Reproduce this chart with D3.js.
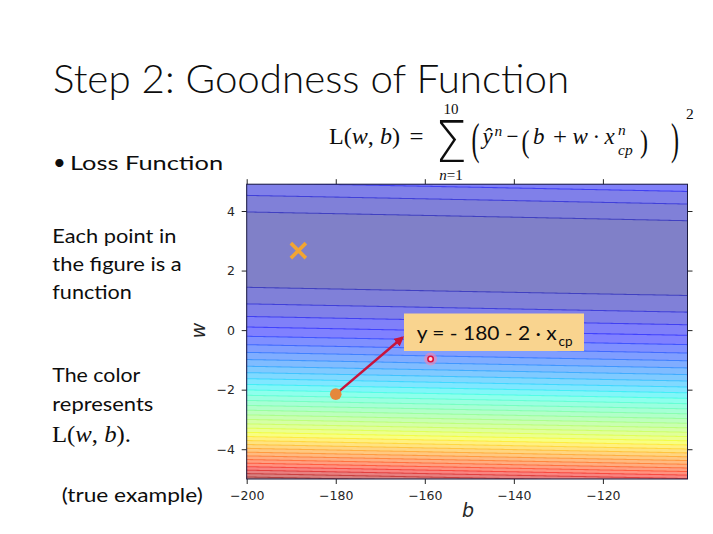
<!DOCTYPE html>
<html><head><meta charset="utf-8">
<script src="https://cdn.jsdelivr.net/npm/d3@7"></script>
<style>body{margin:0;background:#fff} svg{display:block}</style>
</head><body>
<svg id="c" width="713" height="534"></svg>
<script>
// ---- data ----
const xData = [338, 333, 328, 207, 226, 25, 179, 60, 208, 606];     // x_cp^n
const yData = [640, 633, 619, 393, 428, 27, 193, 66, 226, 1591];   // y-hat^n
const bDomain = [-200, -101];
const wDomain = [-5, 4.9];
const bTicks = [-200, -180, -160, -140, -120];
const wTicks = [-4, -2, 0, 2, 4];
const levels = d3.range(0, 5250001, 150000);
const bestPoint = [{b: -188.4, w: 2.67}];
const startPoint = [{b: -180, w: -2.15}];
const markPoint = [{b: -158.7, w: -0.97}];

const svg = d3.select('#c');
const x = d3.scaleLinear().domain(bDomain).range([246.7, 687.5]);
const y = d3.scaleLinear().domain(wDomain).range([479, 184.2]);

// ---- jet colormap ----
const jetR = [[0,0],[0.35,0],[0.66,1],[0.89,1],[1,0.5]];
const jetG = [[0,0],[0.125,0],[0.375,1],[0.64,1],[0.91,0],[1,0]];
const jetB = [[0,0.5],[0.11,1],[0.34,1],[0.65,0],[1,0]];
function seg(s, t){ for(let i=1;i<s.length;i++){ if(t<=s[i][0]){const a=s[i-1],b=s[i];return a[1]+(b[1]-a[1])*(t-a[0])/(b[0]-a[0]);} } return s[s.length-1][1]; }
function jet(t, alpha){ const c=[seg(jetR,t),seg(jetG,t),seg(jetB,t)].map(v=>Math.round(255*(1-alpha*(1-v)))); return `rgb(${c[0]},${c[1]},${c[2]})`; }
function jetRaw(t){ const c=[seg(jetR,t),seg(jetG,t),seg(jetB,t)].map(v=>Math.round(255*v)); return `rgb(${c[0]},${c[1]},${c[2]})`; }

// ---- loss grid ----
const db = 0.5, dw = 0.05, b0 = -202, w0 = -5.2;
const nx = Math.round((-99 - b0)/db) + 1, ny = Math.round((5.1 - w0)/dw) + 1;
const loss = (b, w) => d3.mean(xData, (xi, i) => (yData[i] - (b + w*xi))**2);
const values = new Array(nx*ny);
for (let j=0;j<ny;j++) for (let i=0;i<nx;i++) values[j*nx+i] = loss(b0+i*db, w0+j*dw);
const cont = d3.contours().size([nx, ny]).thresholds(levels)(values);
const proj = d3.geoTransform({point(px, py){ this.stream.point(x(b0+(px-0.5)*db), y(w0+(py-0.5)*dw)); }});
const path = d3.geoPath(proj);
const vmax = levels[levels.length-1];

svg.append('clipPath').attr('id','pc').append('rect')
  .attr('x', x(bDomain[0])).attr('y', y(wDomain[1]))
  .attr('width', x(bDomain[1])-x(bDomain[0])).attr('height', y(wDomain[0])-y(wDomain[1]));
const plot = svg.append('g').attr('clip-path','url(#pc)');
cont.forEach((c, k) => {
  if (k >= levels.length-1) return;
  const mid = (levels[k] + levels[k+1]) / 2 / vmax;
  plot.append('path').attr('d', path(c)).attr('fill', jet(mid, 0.5))
    .attr('stroke', k > 0 ? jetRaw(mid) : 'none').attr('stroke-opacity', 0.5).attr('stroke-width', 1.05);
});

// ---- axes ----
const tickCol = '#262626';
function styleAxis(g){ g.select('.domain').remove(); g.selectAll('line').attr('stroke', tickCol); g.selectAll('text').attr('fill', tickCol).attr('font-family','DejaVu Sans').attr('font-size',12.5); }
svg.append('g').attr('transform',`translate(0,${y(wDomain[0])})`)
  .call(d3.axisBottom(x).tickValues(bTicks).tickSize(5).tickPadding(7.4)).call(styleAxis);
svg.append('g').attr('transform',`translate(${x(bDomain[0])},0)`)
  .call(d3.axisLeft(y).tickValues(wTicks).tickSize(5).tickPadding(6.7)).call(styleAxis);
svg.append('g').attr('transform',`translate(0,${y(wDomain[1])})`)
  .call(d3.axisTop(x).tickValues(bTicks).tickSize(5).tickFormat('')).call(styleAxis);
svg.append('g').attr('transform',`translate(${x(bDomain[1])},0)`)
  .call(d3.axisRight(y).tickValues(wTicks).tickSize(5).tickFormat('')).call(styleAxis);
svg.append('rect').attr('x', x(bDomain[0])).attr('y', y(wDomain[1]))
  .attr('width', x(bDomain[1])-x(bDomain[0])).attr('height', y(wDomain[0])-y(wDomain[1]))
  .attr('fill','none').attr('stroke','#1a1a40').attr('stroke-width',1);

svg.append('text').attr('x',468).attr('y',517).attr('text-anchor','middle')
  .attr('font-family','DejaVu Sans').attr('font-style','italic').attr('font-size',19).attr('fill',tickCol).text('b');
svg.append('text').attr('transform','translate(205,330.5) rotate(-90)').attr('text-anchor','middle')
  .attr('font-family','DejaVu Sans').attr('font-style','italic').attr('font-size',19).attr('fill',tickCol).text('w');

// ---- markers ----
svg.selectAll('.best').data(bestPoint).join('path')
  .attr('transform', d => `translate(${x(d.b)},${y(d.w)})`)
  .attr('d','M-7.5,-7.5L7.5,7.5M-7.5,7.5L7.5,-7.5')
  .attr('stroke','#F2A531').attr('stroke-width',3.6).attr('fill','none');

const defs = svg.append('defs');
defs.append('marker').attr('id','ah').attr('viewBox','0 0 10 10').attr('refX',8).attr('refY',5)
  .attr('markerWidth',4).attr('markerHeight',4).attr('orient','auto')
  .append('path').attr('d','M0,0L10,5L0,10z').attr('fill','#C8143C');
startPoint.forEach(d => {
  svg.append('line').attr('x1', x(d.b)).attr('y1', y(d.w)).attr('x2', 402.5).attr('y2', 337.5)
    .attr('stroke','#C8143C').attr('stroke-width',2.5).attr('marker-end','url(#ah)');
});
svg.selectAll('.start').data(startPoint).join('circle')
  .attr('cx', d => x(d.b)).attr('cy', d => y(d.w)).attr('r', 5.8).attr('fill','#E5883C');

svg.selectAll('.markHalo').data(markPoint).join('circle')
  .attr('cx', d => x(d.b)).attr('cy', d => y(d.w)).attr('r', 6.5).attr('fill','rgba(255,130,170,0.55)');
svg.selectAll('.mark').data(markPoint).join('circle')
  .attr('cx', d => x(d.b)).attr('cy', d => y(d.w)).attr('r', 2.7).attr('fill','#ffd6e0')
  .attr('stroke','#E0103A').attr('stroke-width',1.6);

// ---- annotation box ----
svg.append('rect').attr('x',404).attr('y',313.5).attr('width',180).attr('height',37.5).attr('fill','#F9D48F');

// ---- slide text ----
function sText(str, xx, base, cap, targetW, opts={}){
  const fs = cap / 0.7165;
  const t = svg.append('text').attr('font-family','Lato').attr('font-size', fs)
    .attr('font-weight', opts.weight || 400).attr('fill', opts.fill || '#0d0d0d').text(str);
  const w = t.node().getComputedTextLength();
  const sx = targetW ? targetW / w : 1;
  t.attr('transform', `translate(${xx},${base}) scale(${sx},1)`);
  return t;
}
sText('Step 2: Goodness of Function', 53, 93.3, 28, 516, {weight:300});
svg.append('text').attr('x',53).attr('y',169.5).attr('font-family','Lato').attr('font-size',22).attr('fill','#0d0d0d').text('•');
sText('Loss Function', 70, 169.5, 14.4, 153);
sText('Each point in', 52.3, 243.3, 13.6, 124);
sText('the figure is a', 52.3, 271.3, 13.6, 129.5);
sText('function', 52.3, 299.2, 13.6, 79.5);
sText('The color', 52.3, 382.3, 13.6, 88);
sText('represents', 52.3, 410.5, 13.6, 101);
sText('(true example)', 61.7, 501.5, 13.6, 141);
sText('y = - 180 - 2 · x', 416.7, 339.5, 13.3, 140);
svg.append('text').attr('x',558.5).attr('y',345.5).attr('font-family','Lato').attr('font-size',13.5).attr('fill','#0d0d0d').text('cp');

// serif math
const serif = 'Liberation Serif';
function mt(xx, yy, size, parts, opts={}){
  const t = svg.append('text').attr('font-family', opts.family || serif).attr('font-size',size)
    .attr('font-weight', opts.weight || 400)
    .attr('fill','#0d0d0d').attr('text-anchor', opts.anchor || 'start');
  parts.forEach(p => t.append('tspan').attr('font-style', p[1] ? 'italic' : 'normal').text(p[0]));
  let sx = 1;
  if (opts.width) sx = opts.width / t.node().getComputedTextLength();
  const sy = opts.sy || 1;
  t.attr('transform', `translate(${xx},${yy}) scale(${sx},${sy})`);
  return t;
}
// L(w,b). in left text
mt(52, 441.5, 24, [['L(',0],['w',1],[', ',0],['b',1],[').',0]], {width: 79});
// formula
mt(329, 143.5, 24, [['L(',0],['w',1],[', ',0],['b',1],[')',0]], {width: 71});
mt(409.5, 143.5, 24, [['=',0]], {width: 14});
mt(435, 161.5, 44, [['Σ',0]], {width: 32, sy: 1.3, family: 'DejaVu Sans', weight: 200});
mt(451, 114, 15, [['10',0]], {anchor: 'middle'});
mt(451, 179.5, 15, [['n',1],['=1',0]], {anchor: 'middle'});
mt(471.5, 154, 44, [['(',0]], {width: 8});
mt(482.5, 143.5, 23, [['ŷ',1]]);
mt(494.5, 136, 15.5, [['n',1]]);
mt(506.5, 143.5, 23, [['−',0]], {width: 12});
mt(521.5, 151.5, 31, [['(',0]], {width: 8});
mt(533, 143.5, 23, [['b',1]]);
mt(553, 143.5, 23, [['+',0]], {width: 14});
mt(572.5, 143.5, 23, [['w',1]]);
mt(592.5, 143.5, 23, [['·',0]]);
mt(604.5, 143.5, 23, [['x',1]]);
mt(618, 135, 15.5, [['n',1]]);
mt(618, 155, 15.5, [['cp',1]]);
mt(640, 151.5, 31, [[')',0]], {width: 8});
mt(671, 154, 44, [[')',0]], {width: 8});
mt(686, 118.5, 15.5, [['2',0]]);
</script>
</body></html>
